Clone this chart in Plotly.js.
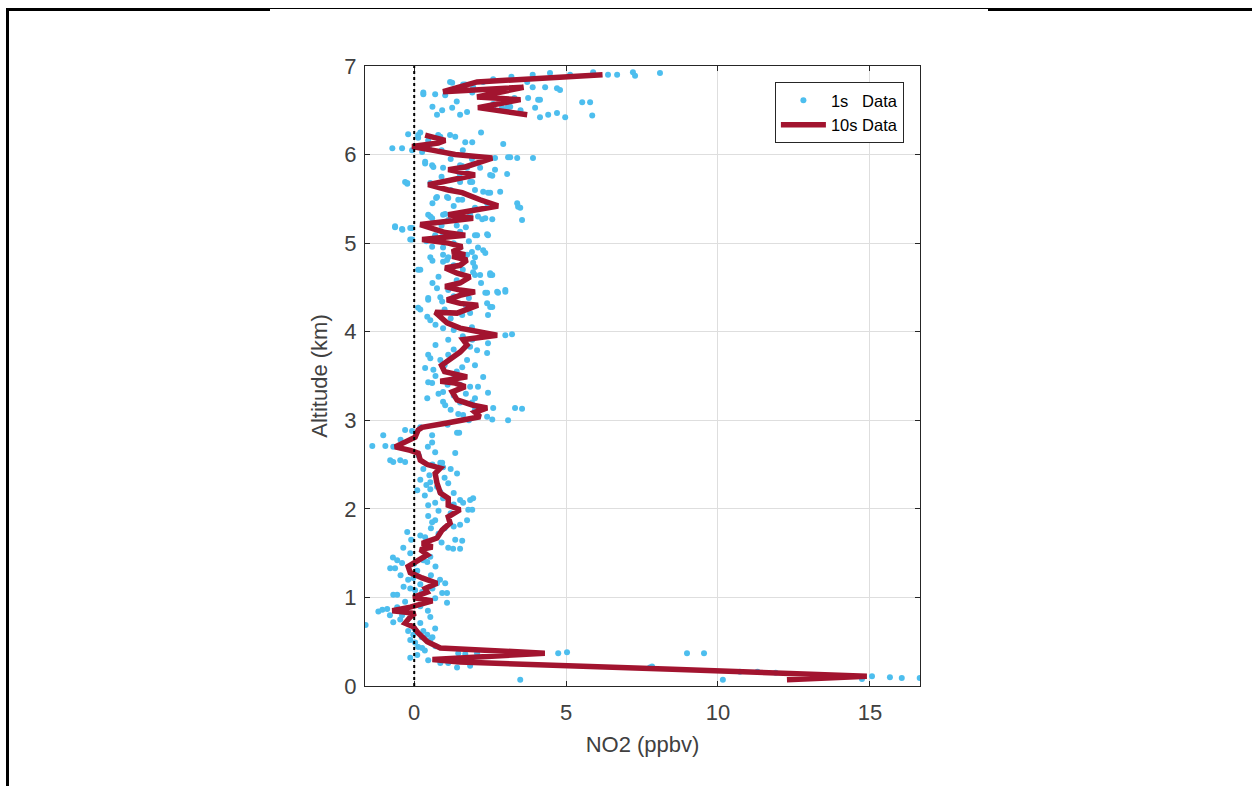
<!DOCTYPE html>
<html>
<head>
<meta charset="utf-8">
<script src="https://cdn.plot.ly/plotly-3.0.1.min.js"></script>
<style>
  html, body { margin: 0; padding: 0; background: #ffffff; }
  #wrap { position: relative; width: 1252px; height: 786px; overflow: hidden; }
  #chart { position: absolute; left: 0; top: 0; width: 1252px; height: 786px; }
  .rule { position: absolute; background: #000; }
</style>
</head>
<body>
<div id="wrap">
  <div id="chart"></div>
  <div class="rule" style="left:6px; top:8px; width:264px; height:3px;"></div>
  <div class="rule" style="left:270px; top:8px; width:718px; height:1px;"></div>
  <div class="rule" style="left:988px; top:8px; width:264px; height:3px;"></div>
  <div class="rule" style="left:6px; top:8px; width:3px; height:778px;"></div>
</div>
<script>
// ---- 10 s averaged profile (NO2 ppbv, altitude km), in flight order; null = data gap
const no2_10s = [12.27, 14.9, 8.5, 4.0, 1.5, 0.6, 4.3, 0.86, 0.43, 0.13, -0.03, -0.3, -0.13, 0.03, -0.72, -0.13, 0.6, -0.03, 0.43, 0.36,
  0.75, 0.26, -0.13, -0.2, 0.13, 0.43, 0.2, 0.6, 0.26, 0.75, 0.92, 1.18, 1.12, 1.51, 1.12, 1.12, 0.86, 0.75, 0.69, 0.86,
  0.43, 0.2, 0.13, -0.13, -0.63, -0.23, 0.03, 0.13, 0.26, 1.08, 2.17, 2.0, 2.4, 1.94, 1.41, 1.25, 1.68, 1.35, 0.86, 1.74,
  1.0, 0.9, 1.25, 1.51, 1.74, 1.61, 2.73, 2.0, 1.51, 1.08, 0.69, 1.41, 2.1, 1.51, 1.08, 1.51, 2.0, 1.51, 1.02, 1.51,
  1.84, 1.41, 1.02, 1.51, 1.74, 1.25, 1.68, 1.25, 1.58, 1.12, 0.26, 1.68, 1.02, 0.2, 1.02, 1.94, 1.12, 1.68, 2.76, 2.17,
  1.58, 1.12, 0.46, 1.18, 2.0, 1.12, 1.68, 2.57, 1.35, 0.59, -0.07, 0.79, 1.02, 0.36,
  null,
  3.72, 2.1, 3.5, 2.07, 3.6, 0.95, 2.07, 6.2];
const alt_10s = [0.07, 0.11, 0.19, 0.24, 0.27, 0.30, 0.37, 0.43, 0.50, 0.60, 0.67, 0.71, 0.78, 0.82, 0.85, 0.89, 0.96, 1.00, 1.06, 1.10,
  1.16, 1.22, 1.28, 1.35, 1.42, 1.48, 1.54, 1.57, 1.61, 1.67, 1.76, 1.84, 1.91, 1.99, 2.04, 2.12, 2.18, 2.29, 2.40, 2.46,
  2.50, 2.55, 2.63, 2.66, 2.70, 2.76, 2.81, 2.89, 2.92, 2.97, 3.04, 3.09, 3.14, 3.17, 3.23, 3.32, 3.38, 3.42, 3.44, 3.49,
  3.55, 3.62, 3.70, 3.77, 3.85, 3.91, 3.96, 4.00, 4.04, 4.10, 4.22, 4.21, 4.30, 4.32, 4.36, 4.41, 4.45, 4.47, 4.51, 4.55,
  4.62, 4.66, 4.72, 4.75, 4.81, 4.85, 4.87, 4.90, 4.96, 5.00, 5.04, 5.09, 5.12, 5.21, 5.25, 5.28, 5.32, 5.35, 5.42, 5.49,
  5.57, 5.60, 5.66, 5.71, 5.77, 5.83, 5.86, 5.96, 6.00, 6.05, 6.09, 6.13, 6.16, 6.22,
  null,
  6.45, 6.53, 6.62, 6.65, 6.76, 6.71, 6.82, 6.90];

// ---- 1 s samples [NO2 ppbv, altitude km], grouped by altitude band
const obs1sLower = [[4.74,0.37],[5.03,0.38],[8.98,0.37],[9.54,0.37],[3.49,0.07],[10.16,0.07],[7.76,0.21],[7.83,0.22],[10.72,0.16],[11.3,0.16],
  [11.9,0.15],[14.74,0.08],[15.07,0.11],[15.66,0.10],[16.05,0.09],[16.64,0.09],[-0.13,0.32],[0.46,0.29],[0.86,0.26],[1.12,0.26],
  [1.41,0.21],[1.84,0.23],[2.07,0.37],[1.45,0.37],[1.68,0.36],[0.13,0.44],[0.26,0.43],[0.03,0.49],[-0.13,0.52],[0.53,0.52],
  [-0.03,0.58],[0.43,0.58],[0.69,0.65],[-0.69,0.72],[-1.6,0.69],[-0.46,0.75],[0.2,0.71],[0.53,0.78],[-1.05,0.86],[-1.18,0.84],
  [-0.89,0.87],[-0.56,0.89],[1.08,0.94],[0.69,0.99],[-0.69,1.03],[-0.56,1.03],[-0.13,1.10],[0.03,1.08],[0.26,1.06],[0.75,1.16],
  [1.02,1.16],[0.92,1.05],[1.08,1.05],[-0.03,1.22],[-0.79,1.33],[-0.63,1.33],[-0.4,1.39],[-0.56,1.42],[0.3,1.42],[0.43,1.40],
  [0.53,1.46],[0.1,0.35],[0.3,0.62],[-0.2,0.62],[0.6,0.55],[0.2,0.9],[0.45,0.85],[-0.3,0.95],[0.55,1.25],[-0.2,1.2],[0.1,1.3],
  [0.35,0.40],[0.7,0.45],[0.25,0.55],[0.0,0.65],[-0.4,0.80],[-0.8,0.80],[0.4,0.95],[0.1,1.0],[-0.35,1.12],[0.6,1.10],
  [0.85,1.2],[-0.45,1.25],[0.2,1.15],[0.7,1.35],[-0.7,1.45],[0.0,1.38]];
const obs1sMid = [[-0.13,1.50],[-0.36,1.56],[1.12,1.56],[1.28,1.55],[1.51,1.55],[1.35,1.65],[1.58,1.64],[-0.23,1.74],[0.2,1.70],[0.36,1.68],
  [1.74,1.87],[0.59,1.85],[0.69,1.87],[1.51,1.82],[0.46,1.92],[1.78,1.99],[1.91,1.99],[0.46,2.04],[0.69,2.07],[1.61,2.07],
  [1.51,2.10],[1.84,2.10],[1.94,2.12],[0.1,2.21],[0.53,2.22],[0.86,2.19],[0.2,2.33],[0.53,2.30],[1.12,2.29],[1.41,2.40],
  [0.92,2.52],[0.86,2.52],[0.95,2.47],[-0.79,2.55],[-0.69,2.53],[-0.46,2.55],[-0.3,2.53],[0.69,2.64],[1.35,2.63],[-1.38,2.71],
  [-0.95,2.71],[-0.69,2.70],[0.59,2.75],[-1.02,2.83],[0.59,2.83],[-0.3,2.89],[-0.07,2.88],[1.41,2.86],[1.48,2.86],[2.4,3.04],
  [2.57,3.01],[3.09,3.0],[1.45,3.07],[1.61,3.06],[2.6,3.14],[3.32,3.14],[3.55,3.13],[0.43,3.25],[0.95,3.21],[1.02,3.17],
  [1.51,3.20],[2.0,3.25],[2.43,3.31],[0.95,3.32],[0.46,3.43],[0.59,3.42],[1.51,3.40],[1.84,3.38],[2.1,3.38],[2.27,3.49],
  [0.3,2.45],[0.5,2.38],[1.0,2.35],[0.8,1.72],[1.0,1.78],
  [0.4,1.60],[0.9,1.62],[-0.1,1.65],[0.55,1.78],[1.3,1.80],[1.2,1.95],[0.8,1.98],[1.3,2.05],[0.95,2.12],[0.35,2.15],
  [1.3,2.18],[0.75,2.25],[0.4,2.27],[1.2,2.45],[0.6,2.5],[0.15,2.6],[0.45,2.7],[-0.45,2.78],[0.2,2.92],[1.1,2.95],
  [1.8,3.0],[2.0,3.12],[1.2,3.12],[1.9,3.2],[1.3,3.28],[0.8,3.3],[1.7,3.3],[1.1,3.4],[1.3,3.47],[0.7,3.5]];
const obs1sUpper = [[0.36,3.59],[0.63,3.57],[1.58,3.60],[1.74,3.68],[0.46,3.74],[0.53,3.70],[0.86,3.68],[1.12,3.74],[2.4,3.76],[1.84,3.83],
  [2.07,3.79],[2.43,3.87],[1.12,3.91],[1.91,3.91],[3.0,3.96],[3.22,3.97],[0.95,4.04],[0.53,4.13],[0.2,4.25],[0.46,4.36],
  [0.86,4.39],[1.58,4.19],[1.84,4.21],[2.43,4.19],[2.57,4.28],[0.13,4.27],[0.43,4.17],[0.92,4.34],[2.4,4.32],[2.5,4.28],
  [0.46,4.38],[0.75,4.49],[1.12,4.47],[2.4,4.44],[2.76,4.44],[3.0,4.45],[2.34,4.44],[2.73,4.45],[3.0,4.47],[0.2,4.70],
  [0.13,4.70],[2.0,4.64],[2.57,4.64],[2.17,4.64],[2.5,4.64],[2.5,4.66],[1.94,4.67],[2.0,4.73],[0.95,4.79],[1.08,4.81],
  [1.94,4.78],[0.53,4.84],[0.95,4.87],[1.74,4.87],[1.12,4.84],[2.0,4.84],[2.34,4.89],[1.51,4.95],[2.1,4.95],[2.27,4.92],
  [0.59,4.96],[0.95,4.95],[-0.13,5.04],[-0.07,5.04],[0.69,5.07],[0.95,5.09],[1.51,5.13],[2.07,5.09],[2.0,5.09],[2.4,5.10],
  [2.43,5.09],[0.69,5.09],[-0.63,5.18],[-0.4,5.16],[-0.13,5.17],[-0.63,5.19],[-0.39,5.15],[-0.07,5.17],[0.53,5.30],[0.59,5.28],
  [0.95,5.32],[1.12,5.26],[1.51,5.28],[1.84,5.32],[2.1,5.30],[2.34,5.28],[2.57,5.27],[0.46,5.32],[1.02,5.33],[2.24,5.27],
  [3.55,5.26],[3.39,5.45],[3.42,5.41],[3.49,5.40],[0.72,5.51],[1.12,5.51],[1.45,5.49],[0.75,5.52],[1.08,5.52],[1.58,5.49],
  [1.4,3.55],[1.0,3.62],[2.0,3.62],[1.3,3.8],[0.7,3.85],[1.6,3.95],[1.3,4.02],[1.9,4.05],[0.7,4.08],[1.2,4.15],
  [1.0,4.25],[1.7,4.3],[1.3,4.4],[1.8,4.38],[0.6,4.55],[1.4,4.58],[2.2,4.55],[0.8,4.62],[1.6,4.7],[1.3,4.75],
  [0.6,4.8],[1.9,4.9],[1.3,5.0],[0.4,5.02],[1.8,5.02],[1.4,5.2],[0.9,5.2],[1.7,5.18],[2.0,5.4],[1.3,5.42],
  [0.6,5.45],[2.4,5.45]];
const obs1sTop = [[2.27,5.58],[2.43,5.57],[2.83,5.58],[2.5,5.57],[-0.3,5.69],[-0.23,5.67],[0.53,5.68],[0.69,5.66],[1.51,5.69],[1.84,5.69],
  [1.91,5.69],[-0.23,5.68],[2.5,5.77],[2.66,5.83],[3.06,5.78],[2.57,5.76],[0.95,5.85],[1.74,5.85],[2.17,5.85],[1.58,5.87],
  [0.36,5.92],[0.59,5.88],[1.51,5.88],[0.36,5.90],[0.63,5.86],[3.09,5.97],[3.39,5.96],[3.91,5.96],[2.66,5.96],[3.16,5.97],
  [0.26,6.03],[-0.07,6.05],[-0.72,6.07],[-0.4,6.07],[2.93,6.12],[1.68,6.14],[1.91,6.14],[0.46,6.16],[0.13,6.19],[-0.2,6.23],
  [0.13,6.22],[0.2,6.25],[0.86,6.2],[1.18,6.22],[1.35,6.2],[0.79,6.22],[0.75,6.45],[1.51,6.45],[1.74,6.48],[2.6,6.53],
  [3.06,6.53],[3.98,6.53],[4.14,6.42],[4.41,6.45],[4.7,6.47],[4.97,6.42],[5.86,6.44],[0.6,6.54],[0.92,6.50],[1.25,6.53],
  [2.89,6.53],[3.16,6.54],[5.53,6.59],[5.79,6.59],[3.3,6.64],[3.75,6.64],[4.14,6.62],[4.08,6.62],[0.3,6.68],[0.69,6.68],
  [1.02,6.67],[1.91,6.70],[0.3,6.70],[1.18,6.82],[1.61,6.79],[1.94,6.76],[2.27,6.82],[3.72,6.82],[3.9,6.76],[4.31,6.76],
  [4.7,6.75],[4.8,6.73],[1.25,6.81],[1.68,6.79],[4.47,6.92],[5.13,6.90],[5.89,6.93],[6.38,6.90],[6.68,6.90],[7.2,6.93],
  [7.27,6.89],[8.09,6.92],
  [1.2,5.6],[0.9,5.75],[1.5,5.78],[2.0,5.6],[1.2,5.95],[1.9,5.95],[0.9,6.05],[1.6,6.05],[0.5,6.1],[2.2,6.25],
  [2.6,6.57],[3.5,6.5],[1.4,6.6],[2.5,6.65],[2.8,6.72],[2.6,6.85],[3.2,6.88],[3.9,6.9]];

const xTickVals = [0, 5, 10, 15];
const yTickVals = [0, 1, 2, 3, 4, 5, 6, 7];
const referenceNO2 = 0;
const labels = { series1s: '1s\u00a0\u00a0\u00a0Data', series10s: '10s Data', xTitle: 'NO2 (ppbv)', yTitle: 'Altitude (km)' };

const all1s = obs1sLower.concat(obs1sMid, obs1sUpper, obs1sTop);
const FONT = 'Liberation Sans, Arial, Helvetica, sans-serif';
const AX = '#262626';

const traces = [
  {
    type: 'scatter', mode: 'markers', name: labels.series1s,
    x: all1s.map(p => p[0]), y: all1s.map(p => p[1]),
    marker: { color: '#4DBEEE', size: 6, line: { width: 0 } }
  },
  {
    type: 'scatter', mode: 'lines', name: labels.series10s,
    x: no2_10s, y: alt_10s, connectgaps: false,
    line: { color: '#A2142F', width: 5.5 }
  }
];

const layout = {
  width: 1252, height: 786,
  margin: { l: 365, r: 332, t: 66, b: 100, pad: 0 },
  paper_bgcolor: '#ffffff', plot_bgcolor: '#ffffff',
  font: { family: FONT, color: AX },
  showlegend: true,
  legend: {
    x: 0.971, xanchor: 'right', y: 0.974, yanchor: 'top',
    bgcolor: '#ffffff', bordercolor: AX, borderwidth: 1,
    font: { family: FONT, size: 16.5, color: '#000000' },
    tracegroupgap: 0, itemwidth: 45
  },
  xaxis: {
    range: [-1.62, 16.65], tickvals: xTickVals, ticktext: xTickVals.map(String),
    showgrid: true, gridcolor: '#dedede', gridwidth: 1, zeroline: false,
    showline: true, linecolor: AX, linewidth: 1, mirror: 'ticks',
    ticks: 'inside', ticklen: 5, tickcolor: AX, ticklabelstandoff: 7,
    tickfont: { family: FONT, size: 22, color: '#404040' },
    title: { text: labels.xTitle, font: { family: FONT, size: 22, color: '#404040' }, standoff: 12 },
    automargin: false
  },
  yaxis: {
    range: [0, 7], tickvals: yTickVals, ticktext: yTickVals.map(String),
    showgrid: true, gridcolor: '#dedede', gridwidth: 1, zeroline: false,
    showline: true, linecolor: AX, linewidth: 1, mirror: 'ticks',
    ticks: 'inside', ticklen: 5, tickcolor: AX, ticklabelstandoff: 3,
    tickfont: { family: FONT, size: 22, color: '#404040' },
    title: { text: labels.yTitle, font: { family: FONT, size: 22, color: '#404040' }, standoff: 10 },
    automargin: false
  },
  shapes: [{
    type: 'line', xref: 'x', yref: 'paper', x0: referenceNO2, x1: referenceNO2, y0: 0, y1: 1,
    line: { color: '#000000', width: 2, dash: 'dot' }, layer: 'above'
  }]
};

Plotly.newPlot('chart', traces, layout, { staticPlot: true, displayModeBar: false });
</script>
</body>
</html>
